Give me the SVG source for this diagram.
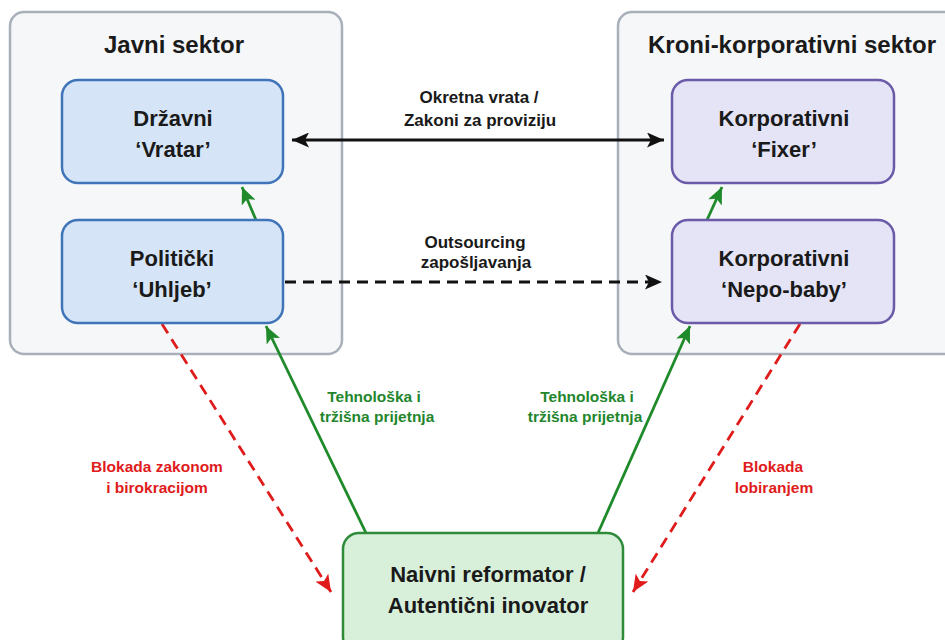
<svg xmlns="http://www.w3.org/2000/svg" width="945" height="640" viewBox="0 0 945 640">
  <style>
    .container { fill: #f6f7f9; stroke: #a9b0ba; stroke-width: 2.5; }
    .title { font-family: "Liberation Sans", Arial, sans-serif; font-weight: bold; font-size: 24px; fill: #1a1a1a; text-anchor: middle; }
    .node-text { font-family: "Liberation Sans", Arial, sans-serif; font-weight: bold; font-size: 22px; fill: #1a1a1a; text-anchor: middle; }
    .blue { fill: #d5e5f7; stroke: #3f74b8; stroke-width: 2.5; }
    .purple { fill: #e4e4f6; stroke: #6a5aa8; stroke-width: 2.5; }
    .green { fill: #d8f0da; stroke: #2e8b3a; stroke-width: 2.5; }
    .lbl { font-family: "Liberation Sans", Arial, sans-serif; font-weight: bold; text-anchor: middle; }
    .lbl-black { font-size: 17px; fill: #1a1a1a; }
    .lbl-green { font-size: 15.5px; fill: #23862c; }
    .lbl-red { font-size: 15.5px; fill: #e01b1b; }
    .c-black { stroke: #111; stroke-width: 2.8; fill: none; }
    .c-dash { stroke: #111; stroke-width: 2.8; fill: none; stroke-dasharray: 11 7; }
    .c-green { stroke: #1f8a2a; stroke-width: 2.8; fill: none; }
    .c-red { stroke: #e01b1b; stroke-width: 2.8; fill: none; stroke-dasharray: 11 7; }
  </style>
  <defs>
    <marker id="ahBlack" markerUnits="userSpaceOnUse" markerWidth="18" markerHeight="15" refX="17" refY="7.5" orient="auto-start-reverse" viewBox="0 0 18 15">
      <path d="M0,0 L17,7.5 L0,15 L4,7.5 z" fill="#111"/>
    </marker>
    <marker id="ahGreen" markerUnits="userSpaceOnUse" markerWidth="18" markerHeight="15" refX="17" refY="7.5" orient="auto" viewBox="0 0 18 15">
      <path d="M0,0 L17,7.5 L0,15 L4,7.5 z" fill="#1f8a2a"/>
    </marker>
    <marker id="ahRed" markerUnits="userSpaceOnUse" markerWidth="18" markerHeight="15" refX="17" refY="7.5" orient="auto" viewBox="0 0 18 15">
      <path d="M0,0 L17,7.5 L0,15 L4,7.5 z" fill="#e01b1b"/>
    </marker>
  </defs>
  <rect width="945" height="640" fill="#ffffff"/>

  <g id="public-sector">
    <rect class="container" x="10" y="12" width="332" height="342" rx="14"/>
    <text class="title" x="174" y="53">Javni sektor</text>
  </g>
  <g id="crony-sector">
    <rect class="container" x="618" y="12" width="345" height="342" rx="14"/>
    <text class="title" x="792" y="53">Kroni-korporativni sektor</text>
  </g>

  <g id="connectors">
    <line class="c-black" x1="292" y1="140" x2="664" y2="140" marker-start="url(#ahBlack)" marker-end="url(#ahBlack)"/>
    <line class="c-dash" x1="285" y1="282" x2="662" y2="282" marker-end="url(#ahBlack)"/>
    <line class="c-green" x1="256" y1="220" x2="242" y2="187" marker-end="url(#ahGreen)"/>
    <line class="c-green" x1="707" y1="220" x2="722" y2="187" marker-end="url(#ahGreen)"/>
    <line class="c-green" x1="366" y1="533" x2="266" y2="326" marker-end="url(#ahGreen)"/>
    <line class="c-green" x1="598" y1="533" x2="690" y2="326" marker-end="url(#ahGreen)"/>
    <line class="c-red" x1="162" y1="324" x2="331" y2="592" marker-end="url(#ahRed)"/>
    <line class="c-red" x1="800" y1="324" x2="633" y2="592" marker-end="url(#ahRed)"/>
    <text class="lbl lbl-black" x="479" y="103">Okretna vrata /</text>
    <text class="lbl lbl-black" x="480" y="126">Zakoni za proviziju</text>
    <text class="lbl lbl-black" x="475" y="248">Outsourcing</text>
    <text class="lbl lbl-black" x="476" y="268">zapošljavanja</text>
    <text class="lbl lbl-green" x="374" y="402">Tehnološka i</text>
    <text class="lbl lbl-green" x="377" y="422">tržišna prijetnja</text>
    <text class="lbl lbl-green" x="587" y="402">Tehnološka i</text>
    <text class="lbl lbl-green" x="585" y="422">tržišna prijetnja</text>
    <text class="lbl lbl-red" x="157" y="472">Blokada zakonom</text>
    <text class="lbl lbl-red" x="157" y="493">i birokracijom</text>
    <text class="lbl lbl-red" x="773" y="472">Blokada</text>
    <text class="lbl lbl-red" x="774" y="493">lobiranjem</text>
  </g>

  <g id="drzavni-vratar">
    <rect class="blue" x="62" y="80" width="221" height="103" rx="16"/>
    <text class="node-text" x="173" y="126">Državni</text>
    <text class="node-text" x="173" y="157">‘Vratar’</text>
  </g>
  <g id="politicki-uhljeb">
    <rect class="blue" x="62" y="220" width="221" height="103" rx="16"/>
    <text class="node-text" x="172" y="266">Politički</text>
    <text class="node-text" x="172" y="297">‘Uhljeb’</text>
  </g>
  <g id="korporativni-fixer">
    <rect class="purple" x="672" y="80" width="222" height="103" rx="16"/>
    <text class="node-text" x="784" y="126">Korporativni</text>
    <text class="node-text" x="784" y="157">‘Fixer’</text>
  </g>
  <g id="korporativni-nepo-baby">
    <rect class="purple" x="672" y="220" width="222" height="103" rx="16"/>
    <text class="node-text" x="784" y="266">Korporativni</text>
    <text class="node-text" x="784" y="297">‘Nepo-baby’</text>
  </g>
  <g id="naivni-reformator">
    <rect class="green" x="343" y="533" width="280" height="120" rx="16"/>
    <text class="node-text" x="488" y="582">Naivni reformator /</text>
    <text class="node-text" x="488" y="613">Autentični inovator</text>
  </g>
</svg>
